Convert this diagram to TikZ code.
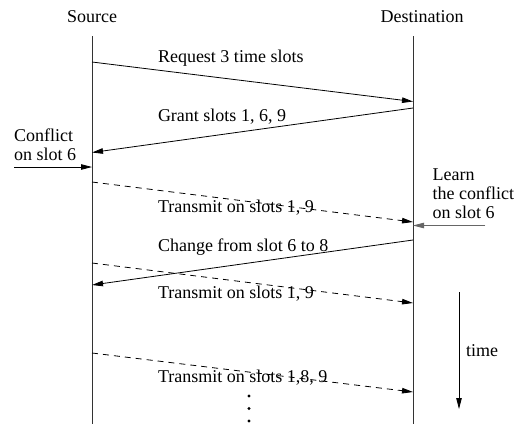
\documentclass[tikz,border=0pt]{standalone}
\usepackage{fontspec}
\setmainfont{Liberation Serif}
\usetikzlibrary{arrows.meta}
\begin{document}
\begin{tikzpicture}[x=1pt,y=-1pt,
  every node/.style={inner sep=0pt,outer sep=0pt,font=\fontsize{18}{18}\selectfont},
  life/.style={line width=0.8pt,draw=black!80},
  msg/.style={line width=0.8pt,-{Triangle[length=11pt,width=5.5pt]}},
  dmsg/.style={msg,dash pattern=on 6pt off 5pt},
  lbl/.style={anchor=base west},
  dotmark/.style={circle,fill=black,minimum size=3.4pt,inner sep=0pt}]
\useasboundingbox (0,0) rectangle (519,424);
% headers
\node[anchor=base] (src) at (92,22.7) {Source};
\node[anchor=base] (dst) at (422,22.7) {Destination};
% lifelines
\coordinate (s0) at (92,36);
\coordinate (s1) at (92,424);
\coordinate (d0) at (413,36);
\coordinate (d1) at (413,424);
\draw[life] (s0) -- (s1);
\draw[life] (d0) -- (d1);
% message endpoints
\coordinate (r0) at (92,62);   \coordinate (r1) at (413,101.5);
\coordinate (g0) at (413,108); \coordinate (g1) at (92,152.5);
\coordinate (t10) at (92,182); \coordinate (t11) at (413,222);
\coordinate (c0) at (413,240); \coordinate (c1) at (92,285);
\coordinate (t20) at (92,263); \coordinate (t21) at (413,303);
\coordinate (t30) at (92,353); \coordinate (t31) at (413,392);
\draw[msg] (r0) -- (r1);
\draw[msg] (g0) -- (g1);
\draw[dmsg] (t10) -- (t11);
\draw[msg] (c0) -- (c1);
\draw[dmsg] (t20) -- (t21);
\draw[dmsg] (t30) -- (t31);
% labels
\node[lbl] (lr) at (158,62.5) {Request 3 time slots};
\node[lbl] (lg) at (158,121.5) {Grant slots 1, 6, 9};
\node[lbl] (lt1) at (158,212.5) {Transmit on slots 1, 9};
\node[lbl] (lc) at (158,251.5) {Change from slot 6 to 8};
\node[lbl] (lt2) at (158,298) {Transmit on slots 1, 9};
\node[lbl] (lt3) at (158,382.5) {Transmit on slots 1,8, 9};
% conflict note
\node[lbl] (cf1) at (14,141.5) {Conflict};
\node[lbl] (cf2) at (14,160) {on slot 6};
\coordinate (ca0) at (14,167); \coordinate (ca1) at (92,167);
\draw[msg] (ca0) -- (ca1);
% learn note
\node[lbl] (ln1) at (432.7,180) {Learn};
\node[lbl] (ln2) at (432.7,199) {the conflict};
\node[lbl] (ln3) at (432.7,218) {on slot 6};
\coordinate (la0) at (485,225.5); \coordinate (la1) at (413,225.5);
\draw[msg,draw=black!60,fill=black] (la0) -- (la1);
% dots
\node[dotmark] (dt1) at (249,396) {};
\node[dotmark] (dt2) at (249,408.5) {};
\node[dotmark] (dt3) at (249,421) {};
% time arrow
\coordinate (tm0) at (459,292); \coordinate (tm1) at (459,409);
\draw[msg] (tm0) -- (tm1);
\node[lbl] (tl) at (466,356) {time};
\end{tikzpicture}
\end{document}
